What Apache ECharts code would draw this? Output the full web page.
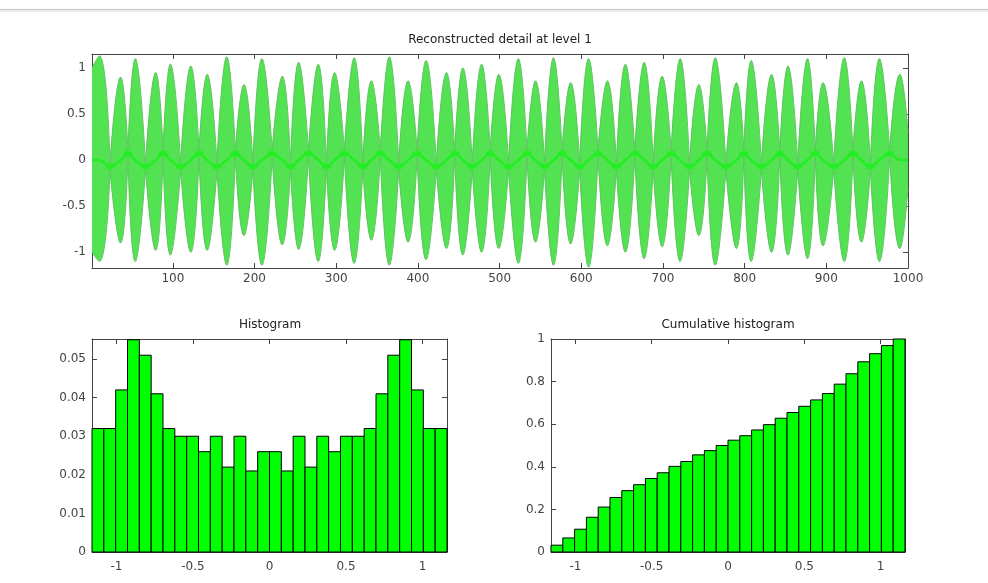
<!DOCTYPE html>
<html>
<head>
<meta charset="utf-8">
<script src="https://cdn.jsdelivr.net/npm/echarts@6/dist/echarts.min.js"></script>
<style>
html,body{margin:0;padding:0;background:#fff;}
#c{width:988px;height:583px;}
</style>
</head>
<body>
<div id="c"></div>
<script>
// ---- Data ----
// Top signal: lobes of the reconstructed detail (centre sample, upper peak, lower peak)
const lobeX = [10,36,54,79,97,122,142,166,187,209,234,254,278,298,322,343,365,388,410,435,455,478,499,523,544,566,587,609,632,654,677,699,721,744,764,790,808,833,853,877,896,922,943,965,990];
const lobeTop = [1.13,0.90,1.10,0.95,1.04,1.02,0.93,1.12,0.82,1.10,0.91,1.06,1.04,0.95,1.11,0.86,1.12,0.86,1.08,0.95,1.00,1.04,0.93,1.10,0.86,1.11,0.84,1.10,0.86,1.04,1.06,0.91,1.10,0.82,1.11,0.84,1.08,0.93,1.02,1.10,0.84,1.11,0.86,1.10,0.93];
const lobeBottom = [-1.10,-0.90,-1.10,-0.98,-1.03,-1.00,-0.98,-1.14,-0.82,-1.14,-0.92,-0.97,-1.10,-0.98,-1.12,-0.87,-1.14,-0.89,-1.08,-0.96,-1.03,-1.00,-0.96,-1.12,-0.89,-1.14,-0.91,-1.16,-0.93,-1.00,-1.07,-0.94,-1.10,-0.82,-1.14,-0.96,-1.10,-1.00,-1.03,-1.07,-0.93,-1.10,-0.89,-1.10,-0.96];
// small residual level between lobes (bright blobs near zero)
const midLevel = [-0.07,0.07,-0.07,0.07,-0.07,0.07,-0.07,0.07,-0.07,0.07,-0.07,0.07,-0.07,0.07,-0.07,0.07,-0.07,0.07,-0.07,0.07,-0.07,0.07,-0.07,0.07,-0.07,0.07,-0.07,0.07,-0.07,0.07,-0.07,0.07,-0.07,0.07,-0.07,0.07,-0.07,0.07,-0.07,0.07,-0.07,0.07,-0.07,0.07];
const edgeTop = [1.00, 0.30];
const edgeBottom = [-1.00, -0.30];
const sampleRange = [1, 1000];
const signalRange = [-1.17, 1.15];

// Histograms (30 bins over the signal range)
const binRange = [-1.16, 1.16];
const histValues = [0.032,0.032,0.042,0.055,0.051,0.041,0.032,0.030,0.030,0.026,0.030,0.022,0.030,0.021,0.026,0.026,0.021,0.030,0.022,0.030,0.026,0.030,0.030,0.032,0.041,0.051,0.055,0.042,0.032,0.032];
const cumValues = [0.032,0.066,0.107,0.163,0.211,0.256,0.288,0.316,0.345,0.372,0.402,0.425,0.456,0.476,0.500,0.525,0.546,0.573,0.598,0.628,0.655,0.684,0.714,0.744,0.788,0.837,0.893,0.931,0.969,1.000];
const histMax = 0.0552;
const cumMax = 1;

// ---- Build series points (each lobe is its own segment so lobes meet in cusps) ----
const upperPts = [];
const lowerPts = [];
const corePts = [[sampleRange[0], 0]];
const blobPts = [];
for (let i = 0; i < lobeX.length; i++) {
  const left = i === 0 ? [sampleRange[0], edgeTop[0], edgeBottom[0]]
    : [(lobeX[i - 1] + lobeX[i]) / 2, midLevel[i - 1] + 0.04, midLevel[i - 1] - 0.04];
  const right = i === lobeX.length - 1 ? [sampleRange[1], edgeTop[1], edgeBottom[1]]
    : [(lobeX[i] + lobeX[i + 1]) / 2, midLevel[i] + 0.04, midLevel[i] - 0.04];
  upperPts.push([left[0], left[1]], [lobeX[i], lobeTop[i]], [right[0], right[1]], [right[0], null]);
  lowerPts.push([left[0], left[2]], [lobeX[i], lobeBottom[i]], [right[0], right[2]], [right[0], null]);
  if (i > 0) {
    corePts.push([left[0], midLevel[i - 1]]);
    blobPts.push([left[0], midLevel[i - 1]]);
  }
  corePts.push([lobeX[i], 0]);
}
corePts.push([sampleRange[1], 0]);

const FONT = 'DejaVu Sans';
const AX = '#444';
const plain = v => String(Math.round(v * 1e6) / 1e6);

function mkX(grid, pos, min, max, split, labels, margin, showMax) {
  return {
    type: 'value', gridIndex: grid, position: pos, min: min, max: max, splitNumber: split,
    axisLine: {show: true, onZero: false, lineStyle: {color: AX, width: 1}},
    axisTick: {show: true, inside: true, length: 5, lineStyle: {color: AX}},
    axisLabel: {show: labels, margin: margin, color: '#444', fontSize: 12, fontFamily: FONT,
      showMinLabel: false, showMaxLabel: showMax, formatter: plain},
    splitLine: {show: false}
  };
}
function mkY(grid, pos, min, max, split, labels, showMin, showMax) {
  return {
    type: 'value', gridIndex: grid, position: pos, min: min, max: max, splitNumber: split,
    axisLine: {show: true, onZero: false, lineStyle: {color: AX, width: 1}},
    axisTick: {show: true, inside: true, length: 5, lineStyle: {color: AX}},
    axisLabel: {show: labels, margin: 6, color: '#444', fontSize: 12, fontFamily: FONT,
      showMinLabel: showMin, showMaxLabel: showMax, formatter: plain},
    splitLine: {show: false}
  };
}

function histRender(values) {
  const w = (binRange[1] - binRange[0]) / values.length;
  return function (params, api) {
    const i = api.value(0);
    const v = api.value(1);
    const p0 = api.coord([binRange[0] + i * w, 0]);
    const p1 = api.coord([binRange[0] + (i + 1) * w, v]);
    return {
      type: 'rect',
      shape: {x: p0[0], y: p1[1], width: p1[0] - p0[0], height: p0[1] - p1[1]},
      style: {fill: '#00ff00', stroke: '#000', lineWidth: 1}
    };
  };
}

const lobeStyle = {
  type: 'line', xAxisIndex: 0, yAxisIndex: 0, symbol: 'none', smooth: 0.5, connectNulls: false,
  lineStyle: {color: '#62c262', width: 1}, areaStyle: {color: '#52e252', opacity: 1}, z: 2
};

const chart = echarts.init(document.getElementById('c'), null, {renderer: 'canvas'});
chart.setOption({
  animation: false,
  backgroundColor: '#fff',
  grid: [
    {left: 92, right: 80, top: 54, bottom: 315},
    {left: 92, right: 541, top: 339, bottom: 31},
    {left: 551, right: 83, top: 339, bottom: 31}
  ],
  xAxis: [
    mkX(0, 'bottom', sampleRange[0], sampleRange[1], 10, true, 5, true),
    mkX(0, 'top', sampleRange[0], sampleRange[1], 10, false, 5, true),
    mkX(1, 'bottom', binRange[0], binRange[1], 5, true, 9, false),
    mkX(1, 'top', binRange[0], binRange[1], 5, false, 9, false),
    mkX(2, 'bottom', binRange[0], binRange[1], 5, true, 9, false),
    mkX(2, 'top', binRange[0], binRange[1], 5, false, 9, false)
  ],
  yAxis: [
    mkY(0, 'left', signalRange[0], signalRange[1], 5, true, false, false),
    mkY(0, 'right', signalRange[0], signalRange[1], 5, false, false, false),
    mkY(1, 'left', 0, histMax, 5, true, true, false),
    mkY(1, 'right', 0, histMax, 5, false, true, false),
    mkY(2, 'left', 0, cumMax, 5, true, true, true),
    mkY(2, 'right', 0, cumMax, 5, false, true, true)
  ],
  series: [
    Object.assign({}, lobeStyle, {data: upperPts}),
    Object.assign({}, lobeStyle, {data: lowerPts}),
    {type: 'line', xAxisIndex: 0, yAxisIndex: 0, data: corePts, symbol: 'none', smooth: 0.4,
      lineStyle: {color: '#22ee22', width: 2.5}, z: 3},
    {type: 'scatter', xAxisIndex: 0, yAxisIndex: 0, data: blobPts, symbol: 'circle', symbolSize: [9, 6],
      itemStyle: {color: '#22ee22'}, z: 4},
    {type: 'custom', xAxisIndex: 2, yAxisIndex: 2, renderItem: histRender(histValues),
      data: histValues.map((v, i) => [i, v]), encode: {x: 0, y: 1}, clip: false},
    {type: 'custom', xAxisIndex: 4, yAxisIndex: 4, renderItem: histRender(cumValues),
      data: cumValues.map((v, i) => [i, v]), encode: {x: 0, y: 1}, clip: false}
  ],
  graphic: [
    {type: 'rect', shape: {x: 0, y: 9, width: 988, height: 1}, style: {fill: '#c4c4c4'}, silent: true},
    {type: 'rect', shape: {x: 0, y: 10, width: 988, height: 2}, style: {fill: '#ececec'}, silent: true},
    {type: 'text', x: 500, y: 40, style: {text: 'Reconstructed detail at level 1', font: '12px "DejaVu Sans"', fill: '#222', textAlign: 'center', textVerticalAlign: 'middle'}},
    {type: 'text', x: 270, y: 325, style: {text: 'Histogram', font: '12px "DejaVu Sans"', fill: '#222', textAlign: 'center', textVerticalAlign: 'middle'}},
    {type: 'text', x: 728, y: 325, style: {text: 'Cumulative histogram', font: '12px "DejaVu Sans"', fill: '#222', textAlign: 'center', textVerticalAlign: 'middle'}}
  ]
});
</script>
</body>
</html>
